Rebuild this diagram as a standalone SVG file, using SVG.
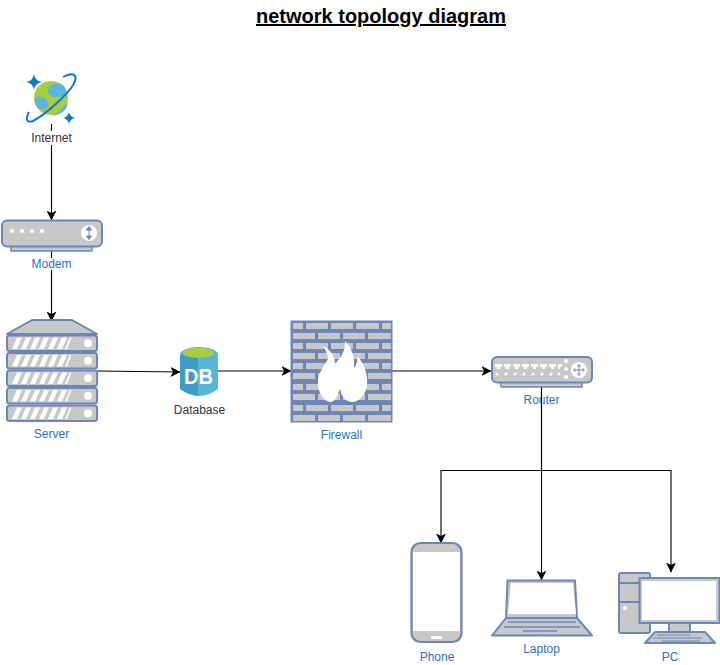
<svg xmlns="http://www.w3.org/2000/svg" width="720" height="665" viewBox="0 0 720 665">
<style>
text{font-family:"Liberation Sans",Arial,sans-serif;font-size:12px;text-anchor:middle}
.b{fill:#2a72b8}.k{fill:#333}
.s{fill:#c8c8c8;stroke:#6c86b8;stroke-width:2;stroke-linejoin:round}
.w{fill:#fff}
.c{fill:none;stroke:#000;stroke-width:1.100}
.title{font-size:20px;font-weight:bold;text-decoration:underline;fill:#000}
</style>
<defs>
<marker id="a" viewBox="0 0 10 10" refX="9.500" refY="5" markerWidth="10" markerHeight="10" markerUnits="userSpaceOnUse" orient="auto"><path d="M0 0L10 5L0 10L2.500 5Z" fill="#000"/></marker>
<g id="srv"><rect x="7" y="0" width="90" height="15.500" rx="2.500" class="s"/><circle cx="88" cy="7.700" r="4" class="w"/><path d="M12 13.500L17 2H22L17 13.500ZM21 13.500L26 2H31L26 13.500ZM30 13.500L35 2H40L35 13.500ZM39 13.500L44 2H49L44 13.500ZM48 13.500L53 2H58L53 13.500ZM57 13.500L62 2H67L62 13.500ZM65 13.500L70 2H71.500L67 13.500Z" class="w"/></g>
</defs>
<text x="381" y="23" class="title">network topology diagram</text>
<g id="connectors">
<path class="c" d="M51.500 124V220" marker-end="url(#a)"/>
<path class="c" d="M51.500 248V321" marker-end="url(#a)"/>
<path class="c" d="M97 371L180 372" marker-end="url(#a)"/>
<path class="c" d="M218 371H291" marker-end="url(#a)"/>
<path class="c" d="M392 371H491" marker-end="url(#a)"/>
<path class="c" d="M541.500 386V470.500H441V543" marker-end="url(#a)"/>
<path class="c" d="M541.500 386V580" marker-end="url(#a)"/>
<path class="c" d="M541.500 470.500H671V572" marker-end="url(#a)"/>
</g>
<g id="internet">
<circle cx="51" cy="98" r="17" fill="#a9cd3d"/>
<path d="M48 90C49 84 58 81 63 85C68 90 67 97 62 96C55 99 47 96 48 90ZM34.500 99C38 95 44 96 47 101C50 105 47 111 42 109C37 110 35 104 34.500 99Z" fill="#5bb5dc"/>
<path d="M67 102C69 108 62 115 52 116C60 112 64 107 67 102Z" fill="#5bb5dc"/>
<path d="M63 77C72 72 77 74 75 81C72 91 45 115 33 121C27 123 25 120 29 112" fill="none" stroke="#1078c8" stroke-width="2"/>
<path d="M34 74Q35 81 42 82Q35 83 34 90Q33 83 26 82Q33 81 34 74Z" fill="#1078c8"/>
<path d="M69 112Q70 117 75 118Q70 119 69 124Q68 119 63 118Q68 117 69 112Z" fill="#1078c8"/>
<rect x="30" y="131" width="44" height="14" fill="#fff"/>
<text x="51.500" y="142" class="k">Internet</text>
</g>
<g id="modem">
<rect x="11" y="246" width="81" height="5" class="s" style="stroke-width:1.500"/>
<rect x="2" y="220.500" width="100" height="26" rx="5" class="s"/>
<circle cx="12" cy="231" r="2" class="w"/><circle cx="22" cy="231" r="2" class="w"/><circle cx="32" cy="231" r="2" class="w"/><circle cx="42" cy="231" r="2" class="w"/>
<circle cx="89" cy="233" r="8" class="w"/>
<path d="M89 228V238M86.500 230L89 226.500L91.500 230ZM86.500 236L89 239.500L91.500 236Z" fill="#6c86b8" stroke="#6c86b8"/>
<rect x="28" y="258" width="48" height="12" fill="#fff"/>
<text x="51.500" y="268" class="b">Modem</text>
</g>
<g id="server">
<path d="M7 334L32 320H72L97 334Z" class="s"/>
<use href="#srv" y="335.500"/><use href="#srv" y="353"/><use href="#srv" y="370.500"/><use href="#srv" y="388"/><use href="#srv" y="405.500"/>
<text x="51.500" y="438" class="b">Server</text>
</g>
<g id="database">
<path d="M180 355V389Q199 403 218 389V355Z" fill="#59b4d9"/>
<path d="M180 355V389Q187 394 198 396V361Z" fill="#3e9ccb"/>
<ellipse cx="199" cy="355" rx="19" ry="8" fill="#59b4d9"/>
<path d="M180 355C180 361 190 363 198 363V355Z" fill="#3e9ccb"/>
<ellipse cx="198.500" cy="353" rx="15.500" ry="5" fill="#a9cd3d"/>
<text x="198.500" y="384" style="font-size:22px;font-weight:bold;fill:#fff" textLength="29" lengthAdjust="spacingAndGlyphs">DB</text>
<text x="199.500" y="414" class="k">Database</text>
</g>
<g id="firewall">
<rect x="290.500" y="320.500" width="102" height="102" fill="#6c86b8"/>
<g fill="#c8c8c8">
<path d="M293 323h10v6h-10zM306 323h22v6h-22zM331 323h22v6h-22zM356 323h23v6h-23zM382 323h9v6h-9z"/>
<path d="M293 333h22v6h-22zM318 333h22v6h-22zM343 333h22v6h-22zM368 333h23v6h-23z"/>
<path d="M293 343h10v6h-10zM306 343h22v6h-22zM331 343h22v6h-22zM356 343h23v6h-23zM382 343h9v6h-9z"/>
<path d="M293 353h22v6h-22zM318 353h22v6h-22zM343 353h22v6h-22zM368 353h23v6h-23z"/>
<path d="M293 363h10v6h-10zM306 363h22v6h-22zM331 363h22v6h-22zM356 363h23v6h-23zM382 363h9v6h-9z"/>
<path d="M293 373h22v6h-22zM318 373h22v6h-22zM343 373h22v6h-22zM368 373h23v6h-23z"/>
<path d="M293 384h10v6h-10zM306 384h22v6h-22zM331 384h22v6h-22zM356 384h23v6h-23zM382 384h9v6h-9z"/>
<path d="M293 394h22v6h-22zM318 394h22v6h-22zM343 394h22v6h-22zM368 394h23v6h-23z"/>
<path d="M293 405h10v6h-10zM306 405h22v6h-22zM331 405h22v6h-22zM356 405h23v6h-23zM382 405h9v6h-9z"/>
<path d="M293 415h22v6h-22zM318 415h22v6h-22zM343 415h22v6h-22zM368 415h23v6h-23z"/>
</g>
<path d="M345 341C352 348 355 358 354 368C357 365 358 361 357 356C364 363 368 374 367 385C366 395 358 403 351 402C345 401 341 396 340 388C338 396 335 402 330 402C323 401 318 392 318 383C318 372 325 365 328 359C328 354 325 349 323 346C331 350 335 357 335 364C340 358 346 351 345 341Z" fill="#fff"/>
<text x="341.500" y="439" class="b">Firewall</text>
</g>
<g id="router">
<rect x="501" y="382" width="81" height="5" class="s" style="stroke-width:1.500"/>
<rect x="492" y="357" width="100" height="25.500" rx="5" class="s"/>
<g fill="#fff"><path d="M495 364h7v3h-2v2h-3v-2h-2zM504 364h7v3h-2v2h-3v-2h-2zM513 364h7v3h-2v2h-3v-2h-2zM522 364h7v3h-2v2h-3v-2h-2zM531 364h7v3h-2v2h-3v-2h-2zM540 364h7v3h-2v2h-3v-2h-2zM549 364h7v3h-2v2h-3v-2h-2zM558 364h4v3h-2v2h-2z"/>
<circle cx="497" cy="374" r="1.500"/><circle cx="506" cy="374" r="1.500"/><circle cx="515" cy="374" r="1.500"/><circle cx="524" cy="374" r="1.500"/><circle cx="533" cy="374" r="1.500"/><circle cx="542" cy="374" r="1.500"/><circle cx="551" cy="374" r="1.500"/><circle cx="559" cy="374" r="1.500"/>
<circle cx="566" cy="361" r="2"/><circle cx="566" cy="369" r="2"/><circle cx="566" cy="377" r="2"/><circle cx="579" cy="370" r="8"/></g>
<path d="M579 365V375M574 370H584M577.500 366.500L579 364.500L580.500 366.500M577.500 373.500L579 375.500L580.500 373.500M575.500 368.500L573.500 370L575.500 371.500M582.500 368.500L584.500 370L582.500 371.500" fill="none" stroke="#6c86b8"/>
<text x="541.500" y="404" class="b">Router</text>
</g>
<g id="phone">
<rect x="411.500" y="543" width="50" height="99" rx="9" class="s" style="stroke-width:2.200"/>
<rect x="413" y="552" width="47" height="79" class="w"/>
<rect x="431" y="636" width="11" height="3" rx="1" class="w"/>
<text x="437" y="661" class="b">Phone</text>
</g>
<g id="laptop">
<path d="M492 635.500L506 618H577L592 635.500Z" class="s"/>
<path d="M506 618L507.500 580.500H575L577 618Z" class="s"/>
<path d="M511 583H573L576 614H508Z" class="w"/>
<path d="M508 622H576M504 627H580M523 631H557" stroke="#6c86b8" stroke-width="1.500"/>
<text x="541.500" y="653" class="b">Laptop</text>
</g>
<g id="pc">
<rect x="619" y="573" width="31" height="60" rx="2" class="s"/>
<path d="M619 583H650M619 602H650" stroke="#6c86b8" stroke-width="2"/>
<circle cx="625" cy="608" r="2" class="w"/>
<rect x="669" y="622" width="21" height="11" class="s"/>
<path d="M645 643L655 632H705L715 643Z" class="s"/>
<path d="M657 635H690M653 638H702M662 641H700" stroke="#6c86b8" fill="none"/>
<rect x="639.500" y="578" width="80" height="45" class="s"/>
<rect x="642" y="581" width="74" height="39" class="w"/>
<text x="670" y="661" class="b">PC</text>
</g>
</svg>
